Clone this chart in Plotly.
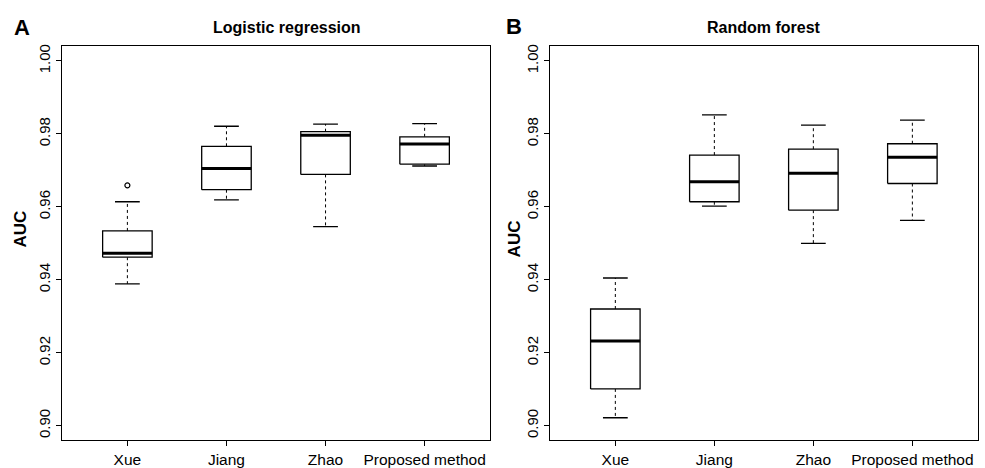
import plotly.graph_objects as go

W, H = 985, 468

categories = ["Xue", "Jiang", "Zhao", "Proposed method"]

# Panel A: Logistic regression
lr_min = [0.9389, 0.9619, 0.9546, 0.9712]
lr_q1 = [0.9462, 0.9647, 0.9689, 0.9717]
lr_med = [0.9473, 0.9705, 0.9796, 0.9772]
lr_q3 = [0.9534, 0.9766, 0.9806, 0.9792]
lr_max = [0.9614, 0.9821, 0.9827, 0.9828]
lr_out_x = ["Xue"]
lr_out_y = [0.9659]

# Panel B: Random forest
rf_min = [0.9022, 0.9602, 0.9500, 0.9563]
rf_q1 = [0.9101, 0.9614, 0.9591, 0.9664]
rf_med = [0.9232, 0.9669, 0.9692, 0.9736]
rf_q3 = [0.9320, 0.9742, 0.9758, 0.9773]
rf_max = [0.9405, 0.9852, 0.9824, 0.9838]

yticks = [0.90, 0.92, 0.94, 0.96, 0.98, 1.00]

FONT = "Liberation Sans, Arial, sans-serif"
BOX_HALF = 0.25
CAP_HALF = 0.125

fig = go.Figure()


def add_panel(xa, ya, mins, q1s, meds, q3s, maxs, out_x=None, out_y=None):
    for i, cat in enumerate(categories):
        c = i + 1
        # whiskers (dotted)
        fig.add_trace(go.Scatter(
            x=[c, c, None, c, c], y=[q3s[i], maxs[i], None, q1s[i], mins[i]],
            mode="lines", line=dict(color="black", width=1, dash="dot"),
            xaxis=xa, yaxis=ya, showlegend=False, hoverinfo="skip"))
        # caps
        fig.add_trace(go.Scatter(
            x=[c - CAP_HALF, c + CAP_HALF, None, c - CAP_HALF, c + CAP_HALF],
            y=[maxs[i], maxs[i], None, mins[i], mins[i]],
            mode="lines", line=dict(color="black", width=1.3),
            xaxis=xa, yaxis=ya, showlegend=False, hoverinfo="skip"))
        # box
        fig.add_trace(go.Scatter(
            x=[c - BOX_HALF, c + BOX_HALF, c + BOX_HALF, c - BOX_HALF, c - BOX_HALF],
            y=[q1s[i], q1s[i], q3s[i], q3s[i], q1s[i]],
            mode="lines", fill="toself", fillcolor="white",
            line=dict(color="black", width=1.3),
            xaxis=xa, yaxis=ya, showlegend=False, hoverinfo="skip"))
        # median
        fig.add_trace(go.Scatter(
            x=[c - BOX_HALF, c + BOX_HALF], y=[meds[i], meds[i]],
            mode="lines", line=dict(color="black", width=3),
            xaxis=xa, yaxis=ya, showlegend=False, hoverinfo="skip"))
    if out_x:
        fig.add_trace(go.Scatter(
            x=[categories.index(n) + 1 for n in out_x], y=out_y, mode="markers",
            marker=dict(symbol="circle-open", size=5, color="black", line=dict(width=1.2)),
            xaxis=xa, yaxis=ya, showlegend=False, hoverinfo="skip"))


add_panel("x", "y", lr_min, lr_q1, lr_med, lr_q3, lr_max, lr_out_x, lr_out_y)
add_panel("x2", "y2", rf_min, rf_q1, rf_med, rf_q3, rf_max)

ytop, ybot = 45, 445
ydom = [1 - ybot / H, 1 - ytop / H]

axis_common = dict(showline=True, mirror=True, linecolor="black", linewidth=1,
                   ticks="outside", ticklen=5, tickcolor="black", tickwidth=1,
                   showgrid=False, zeroline=False)

xaxis_common = dict(axis_common, range=[0.34, 4.66], tickvals=[1, 2, 3, 4],
                    ticktext=categories, tickfont=dict(family=FONT, size=15.5, color="black"))
yaxis_common = dict(axis_common, range=[0.896, 1.004], tickvals=yticks, tickformat=".2f",
                    tickangle=-90, tickfont=dict(family=FONT, size=15, color="black"))

fig.update_layout(
    width=W, height=H,
    margin=dict(l=0, r=0, t=0, b=0),
    paper_bgcolor="white", plot_bgcolor="white",
    xaxis=dict(xaxis_common, domain=[62 / W, 490 / W], anchor="y"),
    yaxis=dict(yaxis_common, domain=ydom, anchor="x"),
    xaxis2=dict(xaxis_common, domain=[550 / W, 977.7 / W], anchor="y2"),
    yaxis2=dict(yaxis_common, domain=ydom, anchor="x2"),
)


def ann(text, px, py, size, angle=0):
    fig.add_annotation(text=text, x=px / W, y=1 - py / H, xref="paper", yref="paper",
                       showarrow=False, textangle=angle, xanchor="center", yanchor="middle",
                       font=dict(family=FONT, size=size, color="black"))


ann("<b>Logistic regression</b>", 286.7, 26, 16)
ann("<b>Random forest</b>", 763.7, 26, 16)
ann("<b>A</b>", 21.5, 26, 22)
ann("<b>B</b>", 514, 25, 22)
ann("<b>AUC</b>", 21, 231, 17, -90)
ann("<b>AUC</b>", 514, 241, 17, -90)

fig.write_html("out.html", config={"displayModeBar": False},
               post_script="document.body.style.margin='0';document.body.style.overflow='hidden';")
